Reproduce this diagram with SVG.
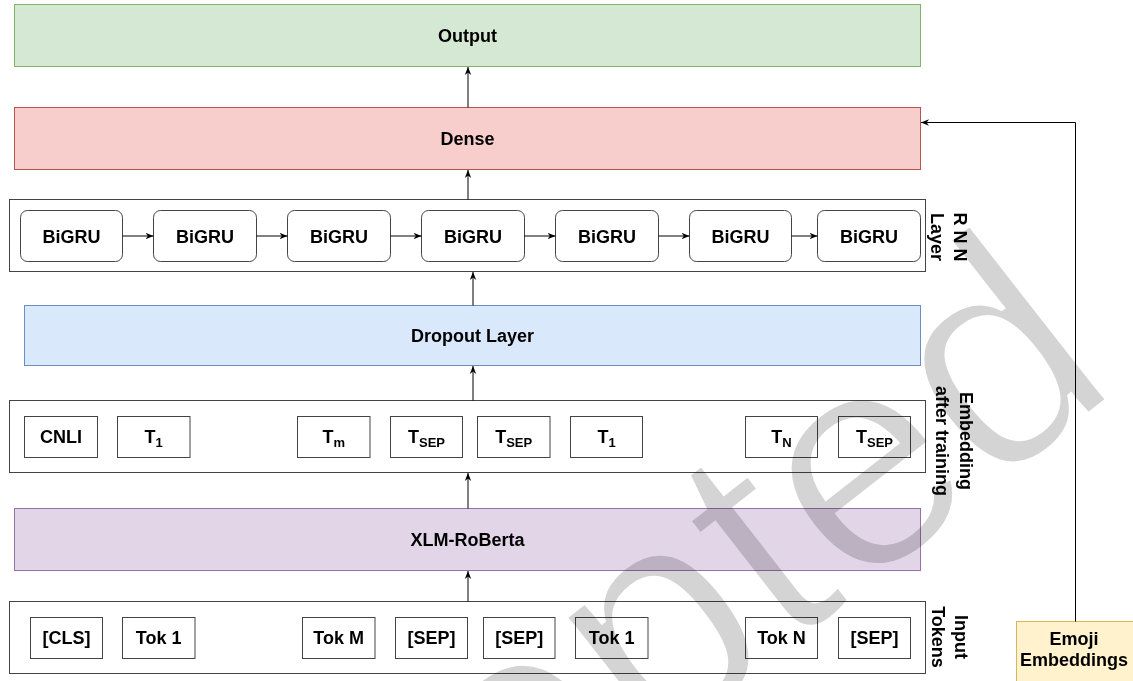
<svg xmlns="http://www.w3.org/2000/svg" width="1133" height="681" viewBox="0 0 1133 681">
  <defs>
    <marker id="arrow" viewBox="0 0 10 10" refX="10" refY="5" markerWidth="8" markerHeight="8" markerUnits="userSpaceOnUse" orient="auto">
      <path d="M0,1 L10,5 L0,9 L3,5 z" fill="#000"/>
    </marker>
    <style>
      .lbl { font-family: "Liberation Sans", Arial, Helvetica, sans-serif; font-weight: bold; font-size: 18px; fill: #000; text-anchor: middle; }
      .sub { font-size: 13px; }
      .frame { fill: #fff; stroke: #444; stroke-width: 1; }
      .tok { fill: #fff; stroke: #444; stroke-width: 1; }
      .gru { fill: #fff; stroke: #444; stroke-width: 1; }
      .edge { fill: none; stroke: #000; stroke-width: 1; marker-end: url(#arrow); }
      .wm { font-family: "Liberation Sans", Arial, sans-serif; font-size: 310px; fill: #d4d4d4; stroke: #fff; stroke-width: 6px; mix-blend-mode: multiply; }
    </style>
  </defs>

  <rect width="1133" height="681" fill="#fff"/>

  <!-- layer blocks -->
  <g id="output">
    <rect x="14.5" y="4.5" width="906" height="62" fill="#d5e8d4" stroke="#82b366"/>
    <text class="lbl" x="467.5" y="41.5">Output</text>
  </g>
  <g id="dense">
    <rect x="14.5" y="107.5" width="906" height="62" fill="#f8cecc" stroke="#b85450"/>
    <text class="lbl" x="467.5" y="144.5">Dense</text>
  </g>

  <g id="rnn-layer">
    <rect class="frame" x="9.5" y="199.5" width="916" height="72"/>
    <text class="lbl" transform="translate(954,237) rotate(90)">R N N</text>
    <text class="lbl" transform="translate(931,237) rotate(90)">Layer</text>
  </g>
  <g id="bigru-1"><rect class="gru" x="20.5" y="210.5" width="102" height="51" rx="7"/><text class="lbl" x="71.5" y="242.5">BiGRU</text></g>
  <g id="bigru-2"><rect class="gru" x="153.5" y="210.5" width="103" height="51" rx="7"/><text class="lbl" x="205" y="242.5">BiGRU</text></g>
  <g id="bigru-3"><rect class="gru" x="287.5" y="210.5" width="103" height="51" rx="7"/><text class="lbl" x="339" y="242.5">BiGRU</text></g>
  <g id="bigru-4"><rect class="gru" x="421.5" y="210.5" width="103" height="51" rx="7"/><text class="lbl" x="473" y="242.5">BiGRU</text></g>
  <g id="bigru-5"><rect class="gru" x="555.5" y="210.5" width="103" height="51" rx="7"/><text class="lbl" x="607" y="242.5">BiGRU</text></g>
  <g id="bigru-6"><rect class="gru" x="689.5" y="210.5" width="102" height="51" rx="7"/><text class="lbl" x="740.5" y="242.5">BiGRU</text></g>
  <g id="bigru-7"><rect class="gru" x="817.5" y="210.5" width="103" height="51" rx="7"/><text class="lbl" x="869" y="242.5">BiGRU</text></g>

  <g id="dropout">
    <rect x="24.5" y="305.5" width="896" height="60" fill="#dae8fc" stroke="#6c8ebf"/>
    <text class="lbl" x="472.5" y="341.5">Dropout Layer</text>
  </g>

  <g id="embedding-layer">
    <rect class="frame" x="9.5" y="400.5" width="916" height="72"/>
    <text class="lbl" transform="translate(960,441) rotate(90)">Embedding</text>
    <text class="lbl" transform="translate(936,441) rotate(90)">after training</text>
  </g>
  <g id="emb-cnli"><rect class="tok" x="24.5" y="416.5" width="73" height="41"/><text class="lbl" x="61" y="443">CNLI</text></g>
  <g id="emb-t1a"><rect class="tok" x="117.5" y="416.5" width="72.5" height="41"/><text class="lbl" x="153.7" y="443">T<tspan class="sub" dy="4">1</tspan></text></g>
  <g id="emb-tm"><rect class="tok" x="297.5" y="416.5" width="72.5" height="41"/><text class="lbl" x="333.7" y="443">T<tspan class="sub" dy="4">m</tspan></text></g>
  <g id="emb-tsep1"><rect class="tok" x="390.5" y="416.5" width="72" height="41"/><text class="lbl" x="426.5" y="443">T<tspan class="sub" dy="4">SEP</tspan></text></g>
  <g id="emb-tsep2"><rect class="tok" x="477.5" y="416.5" width="72.5" height="41"/><text class="lbl" x="513.7" y="443">T<tspan class="sub" dy="4">SEP</tspan></text></g>
  <g id="emb-t1b"><rect class="tok" x="570.5" y="416.5" width="72" height="41"/><text class="lbl" x="606.5" y="443">T<tspan class="sub" dy="4">1</tspan></text></g>
  <g id="emb-tn"><rect class="tok" x="745.5" y="416.5" width="72" height="41"/><text class="lbl" x="781.5" y="443">T<tspan class="sub" dy="4">N</tspan></text></g>
  <g id="emb-tsep3"><rect class="tok" x="838.5" y="416.5" width="72" height="41"/><text class="lbl" x="874.5" y="443">T<tspan class="sub" dy="4">SEP</tspan></text></g>

  <g id="xlm-roberta">
    <rect x="14.5" y="508.5" width="906" height="62" fill="#e1d5e7" stroke="#9673a6"/>
    <text class="lbl" x="467.5" y="545.5">XLM-RoBerta</text>
  </g>

  <g id="input-tokens">
    <rect class="frame" x="9.5" y="601.5" width="916" height="72"/>
    <text class="lbl" transform="translate(955,637) rotate(90)">Input</text>
    <text class="lbl" transform="translate(932,637) rotate(90)">Tokens</text>
  </g>
  <g id="in-cls"><rect class="tok" x="30.5" y="617.5" width="72" height="41"/><text class="lbl" x="66.5" y="644">[CLS]</text></g>
  <g id="in-tok1a"><rect class="tok" x="122.5" y="617.5" width="72.5" height="41"/><text class="lbl" x="158.7" y="644">Tok 1</text></g>
  <g id="in-tokm"><rect class="tok" x="302.5" y="617.5" width="72.5" height="41"/><text class="lbl" x="338.7" y="644">Tok M</text></g>
  <g id="in-sep1"><rect class="tok" x="395.5" y="617.5" width="72" height="41"/><text class="lbl" x="431.5" y="644">[SEP]</text></g>
  <g id="in-sep2"><rect class="tok" x="483.5" y="617.5" width="71.5" height="41"/><text class="lbl" x="519.2" y="644">[SEP]</text></g>
  <g id="in-tok1b"><rect class="tok" x="575.5" y="617.5" width="72.5" height="41"/><text class="lbl" x="611.7" y="644">Tok 1</text></g>
  <g id="in-tokn"><rect class="tok" x="745.5" y="617.5" width="72" height="41"/><text class="lbl" x="781.5" y="644">Tok N</text></g>
  <g id="in-sep3"><rect class="tok" x="838.5" y="617.5" width="72" height="41"/><text class="lbl" x="874.5" y="644">[SEP]</text></g>

  <g id="emoji-embeddings">
    <rect x="1016.5" y="621.5" width="130" height="70" fill="#fff2cc" stroke="#d6b656"/>
    <text class="lbl" x="1074" y="645">Emoji</text>
    <text class="lbl" x="1074" y="666">Embeddings</text>
  </g>

  <!-- connectors -->
  <g id="connectors">
    <path class="edge" d="M468,601.5 V571"/>
    <path class="edge" d="M468,508.5 V473"/>
    <path class="edge" d="M473,400.5 V366"/>
    <path class="edge" d="M473,305.5 V272"/>
    <path class="edge" d="M468,199.5 V170"/>
    <path class="edge" d="M468,107.5 V67"/>
    <path class="edge" d="M122.5,236 H153.5"/>
    <path class="edge" d="M256.5,236 H287.5"/>
    <path class="edge" d="M390.5,236 H421.5"/>
    <path class="edge" d="M524.5,236 H555.5"/>
    <path class="edge" d="M658.5,236 H689.5"/>
    <path class="edge" d="M791.5,236 H817.5"/>
    <path class="edge" d="M1075.5,621.5 V122.5 H921"/>
  </g>

  <!-- stamp across the lower right -->
  <text class="wm" transform="translate(106,1183) rotate(-38)">Accepted</text>
</svg>
